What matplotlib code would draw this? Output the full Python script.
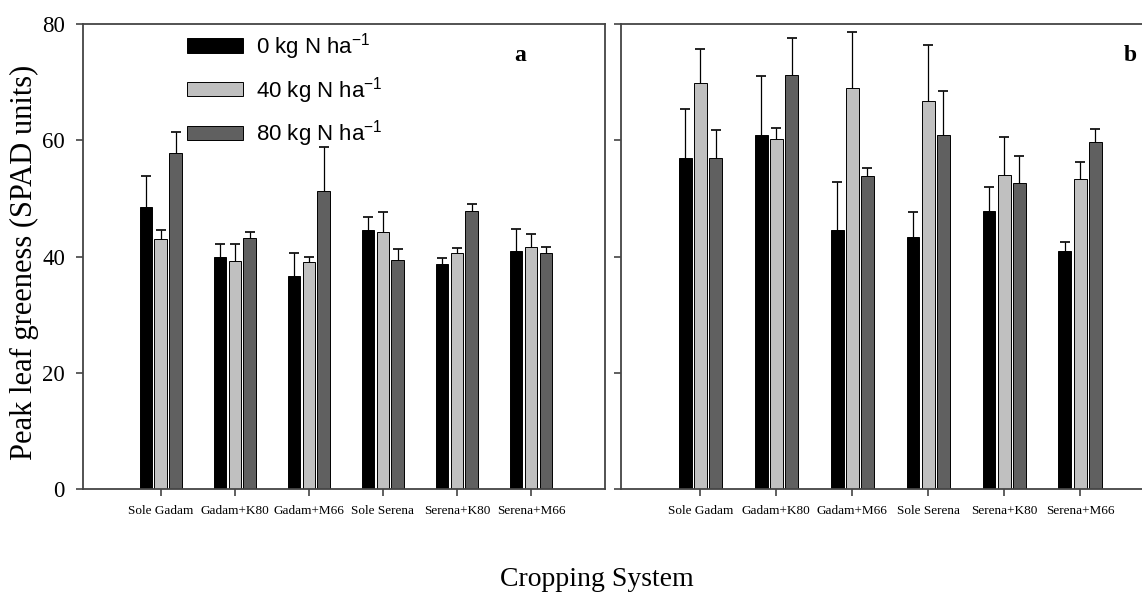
import numpy as np
import matplotlib
matplotlib.use("Agg")
import matplotlib.pyplot as plt

plt.rcParams['font.family'] = ['Liberation Serif', 'DejaVu Serif']
plt.rcParams['mathtext.default'] = 'regular'

# data
systems = ['Sole Gadam', 'Gadam+K80', 'Gadam+M66', 'Sole Serena', 'Serena+K80', 'Serena+M66']
rates = ['0 kg N ha$^{-1}$', '40 kg N ha$^{-1}$', '80 kg N ha$^{-1}$']

# panel a
a_n0 = [48.5, 39.9, 36.7, 44.6, 38.7, 41.0]
a_n40 = [43.1, 39.3, 39.0, 44.2, 40.6, 41.7]
a_n80 = [57.9, 43.2, 51.3, 39.5, 47.9, 40.6]
a_n0_err = [5.4, 2.3, 3.9, 2.3, 1.1, 3.8]
a_n40_err = [1.5, 2.9, 1.0, 3.5, 0.9, 2.2]
a_n80_err = [3.5, 1.0, 7.6, 1.8, 1.2, 1.1]

# panel b
b_n0 = [57.0, 60.9, 44.6, 43.4, 47.9, 41.0]
b_n40 = [69.9, 60.2, 69.0, 66.8, 54.0, 53.4]
b_n80 = [56.9, 71.2, 53.9, 60.9, 52.7, 59.7]
b_n0_err = [8.4, 10.1, 8.3, 4.2, 4.0, 1.5]
b_n40_err = [5.8, 1.9, 9.7, 9.6, 6.5, 2.9]
b_n80_err = [4.8, 6.4, 1.3, 7.6, 4.6, 2.3]

colors = ['#000000', '#c0c0c0', '#606060']
offsets = [-0.2, 0.0, 0.2]
width = 0.17
spine_col = '#444444'

fig = plt.figure(figsize=(11.42, 5.94), dpi=100)
ax1 = fig.add_axes([0.0727, 0.1763, 0.4571, 0.7833])
ax2 = fig.add_axes([0.5435, 0.1763, 0.4688, 0.7833])

x = np.arange(1, len(systems) + 1)


def draw_panel(ax, vals, errs, letter, lx):
    for i in range(3):
        ax.bar(x + offsets[i], vals[i], width, color=colors[i], edgecolor='black',
               linewidth=0.7, label=rates[i], zorder=2)
        eb = ax.errorbar(x + offsets[i], vals[i], yerr=[np.zeros(len(x)), errs[i]],
                         fmt='none', ecolor='black', elinewidth=0.9, capsize=3.5,
                         capthick=1.2, zorder=3)
        eb[1][0].set_visible(False)
    ax.set_xlim(-0.05, 7)
    ax.set_ylim(0, 80)
    ax.set_yticks([0, 20, 40, 60, 80])
    ax.set_xticks(x)
    ax.set_xticklabels(systems, fontsize=9.5)
    ax.tick_params(direction='out', length=5, width=1.2, color=spine_col)
    ax.tick_params(axis='x', pad=6)
    ax.tick_params(axis='y', labelsize=16.5, pad=8)
    for s in ax.spines.values():
        s.set_color(spine_col)
        s.set_linewidth(1.3)
    ax.text(lx, 0.933, letter, transform=ax.transAxes, fontsize=17,
            fontweight='bold', ha='center', va='center')


draw_panel(ax1, [a_n0, a_n40, a_n80], [a_n0_err, a_n40_err, a_n80_err], 'a', 0.837)
draw_panel(ax2, [b_n0, b_n40, b_n80], [b_n0_err, b_n40_err, b_n80_err], 'b', 0.951)
ax2.set_yticklabels([])

ax1.legend(loc='upper left', bbox_to_anchor=(0.2, 0.985), frameon=False,
           prop={'family': 'Liberation Sans', 'size': 16}, handlelength=2.5,
           handleheight=0.6, handletextpad=0.6, labelspacing=0.58,
           borderpad=0, borderaxespad=0)

fig.text(0.021, 0.559, 'Peak leaf greeness (SPAD units)', rotation=90,
         fontsize=22, ha='center', va='center')
fig.text(0.523, 0.0236, 'Cropping System', fontsize=20, ha='center', va='center')

fig.savefig('out.png', dpi=100)
